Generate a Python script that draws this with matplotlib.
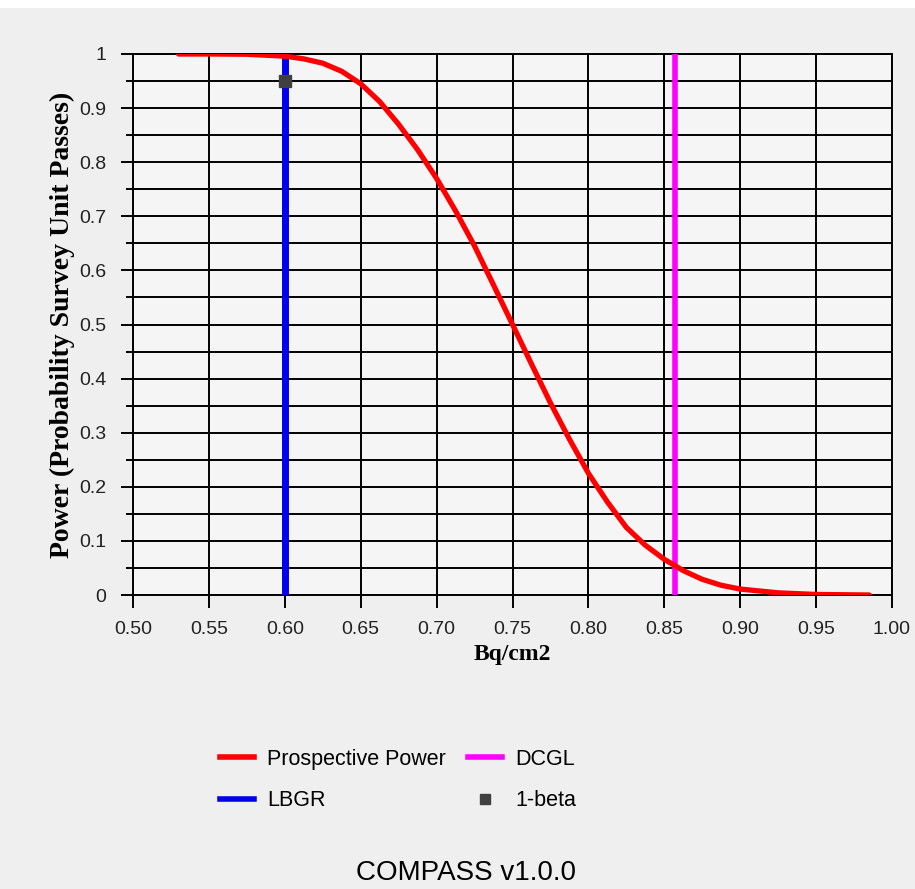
import matplotlib.pyplot as plt
from matplotlib.patches import Rectangle
from matplotlib.lines import Line2D

# values
bq = [0.53, 0.55, 0.575, 0.60, 0.6125, 0.625, 0.6375, 0.65, 0.6625, 0.675, 0.6875,
      0.70, 0.7125, 0.725, 0.7375, 0.75, 0.7625, 0.775, 0.7875, 0.80, 0.8125,
      0.825, 0.8375, 0.85, 0.8625, 0.875, 0.8875, 0.90, 0.925, 0.95, 0.985]
power = [1.000, 1.000, 0.9995, 0.996, 0.991, 0.983, 0.968, 0.945, 0.912, 0.870, 0.823,
         0.770, 0.710, 0.645, 0.573, 0.500, 0.427, 0.355, 0.288, 0.225, 0.172,
         0.125, 0.092, 0.066, 0.045, 0.029, 0.018, 0.011, 0.004, 0.001, 0.000]
lbgr = 0.60
dcgl = 0.857
beta_x = 0.60
beta_y = 0.95
x_ticks = [0.50, 0.55, 0.60, 0.65, 0.70, 0.75, 0.80, 0.85, 0.90, 0.95, 1.00]
y_ticks = [0, 0.1, 0.2, 0.3, 0.4, 0.5, 0.6, 0.7, 0.8, 0.9, 1]
y_minor = [0.05, 0.15, 0.25, 0.35, 0.45, 0.55, 0.65, 0.75, 0.85, 0.95]

W, H = 915, 889
fig = plt.figure(figsize=(W / 100, H / 100), dpi=100, facecolor='#efefef')
fig.patches.append(Rectangle((0, 1 - 8 / H), 1, 8 / H, transform=fig.transFigure,
                             facecolor='white', edgecolor='none'))

ax = fig.add_axes([133 / W, 1 - 595 / H, 759 / W, 541 / H], facecolor='#f5f5f5')

ax.plot(bq, power, color='#ff0000', lw=3.8, solid_capstyle='round', zorder=4)
ax.plot([lbgr, lbgr], [0, 1], color='#0000ee', lw=5, zorder=3)
ax.plot([dcgl, dcgl], [0, 1], color='#ff00ff', lw=4, zorder=3)
ax.plot([beta_x], [beta_y], marker='s', color='#404040', ms=8, ls='none', zorder=5)

ax.set_xlim(0.5, 1.0)
ax.set_ylim(0, 1)
ax.set_xticks(x_ticks)
ax.set_xticklabels(['%.2f' % v for v in x_ticks])
ax.set_yticks(y_ticks)
ax.set_yticklabels(['0', '0.1', '0.2', '0.3', '0.4', '0.5', '0.6', '0.7', '0.8', '0.9', '1'])
ax.set_yticks(y_minor, minor=True)

ax.grid(True, which='major', color='black', lw=1.4, zorder=1)
ax.grid(True, which='minor', axis='y', color='black', lw=1.4, zorder=1)
ax.set_axisbelow(True)
for s in ax.spines.values():
    s.set_linewidth(1.4)
ax.tick_params(which='major', direction='out', length=9, width=1.4, labelsize=14,
               colors='black', labelcolor='#222222', pad=10)
ax.tick_params(which='minor', direction='out', length=5, width=1.4)
for lab in ax.get_xticklabels() + ax.get_yticklabels():
    lab.set_family('Liberation Sans')

ax.set_xlabel('Bq/cm2', family='Liberation Serif', fontweight='bold', fontsize=17, labelpad=4)
ax.set_ylabel('Power (Probability Survey Unit Passes)', family='Liberation Serif',
              fontweight='bold', fontsize=20, labelpad=3)

handles = [
    Line2D([], [], color='#ff0000', lw=4),
    Line2D([], [], color='#0000ee', lw=4),
    Line2D([], [], color='#ff00ff', lw=4),
    Line2D([], [], marker='s', color='#404040', ms=7, ls='none'),
]
labels = ['Prospective Power', 'LBGR', 'DCGL', '1-beta']
fig.legend(handles, labels, ncol=2, loc='center', bbox_to_anchor=(398 / W, 1 - 780 / H),
           frameon=False, prop={'family': 'Liberation Sans', 'size': 15.5},
           handlelength=1.6, columnspacing=1.0, labelspacing=0.95, handletextpad=0.6)

fig.text(466 / W, 1 - 886 / H, 'COMPASS v1.0.0', ha='center', va='bottom',
         fontsize=20, family='Liberation Sans', color='black')

fig.savefig('out.png', dpi=100, facecolor=fig.get_facecolor())
